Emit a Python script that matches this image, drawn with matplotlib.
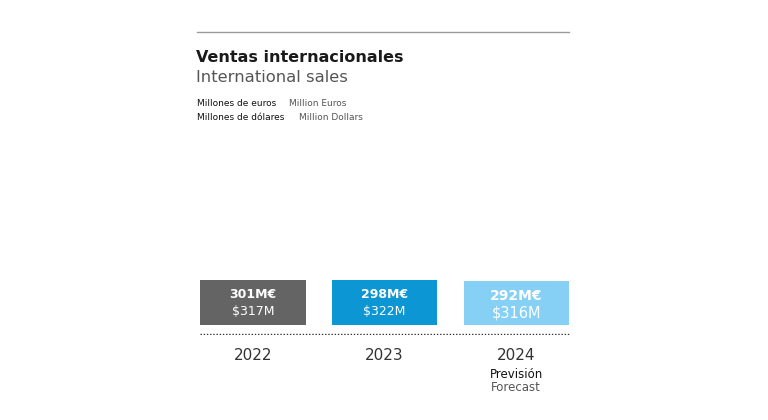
import matplotlib
matplotlib.use('Agg')
import matplotlib.pyplot as plt
from matplotlib.lines import Line2D

plt.rcParams['font.family'] = ['DejaVu Sans']

# data
years = ['2022', '2023', '2024']
euros = [301, 298, 292]
dollars = [317, 322, 316]
bar_colors = ['#646464', '#0d96d4', '#86d0f6']

W, H = 768, 420
fig = plt.figure(figsize=(W / 100, H / 100), dpi=100)


def fx(px):
    return px / W


def fy(py):
    return 1 - py / H


# header
fig.add_artist(Line2D([fx(197), fx(569)], [fy(32), fy(32)], color='#9a9a9a', lw=1,
                      transform=fig.transFigure))
fig.text(fx(196), fy(57), 'Ventas internacionales', fontsize=11.5, fontweight='bold',
         color='#1a1a1a', va='center')
fig.text(fx(196), fy(77), 'International sales', fontsize=11.8, color='#555555', va='center')
fig.text(fx(197), fy(103), 'Millones de euros', fontsize=6.5, color='#111111', va='center')
fig.text(fx(289), fy(103), 'Million Euros', fontsize=6.5, color='#555555', va='center')
fig.text(fx(197), fy(117), 'Millones de dólares', fontsize=6.5, color='#111111', va='center')
fig.text(fx(299), fy(117), 'Million Dollars', fontsize=6.5, color='#555555', va='center')

# bars
ax = fig.add_axes([fx(187), fy(335), fx(582) - fx(187), fy(255) - fy(335)])
x = list(range(len(years)))
ax.bar(x, euros, width=0.8, color=bar_colors)
ax.set_xlim(-0.5, 2.5)
ax.set_ylim(-67, 468)
ax.plot([-0.4, 2.4], [-60, -60], color='#333333', lw=1, dashes=(1, 1.3))

for i in x:
    big = i == 2
    ax.text(i, euros[i] * 0.68 - (6 if big else 0), f'{euros[i]}M€', ha='center',
            va='center', color='white', fontsize=10 if big else 9, fontweight='bold')
    ax.text(i, euros[i] * 0.30 - (8 if big else 0), f'${dollars[i]}M', ha='center',
            va='center', color='white', fontsize=10.5 if big else 9)

ax.set_xticks(x)
ax.set_xticklabels(years, fontsize=11, color='#333333')
ax.tick_params(length=0, pad=9)
ax.set_yticks([])
for s in ax.spines.values():
    s.set_visible(False)
ax.patch.set_alpha(0)

ax.text(2, -0.49, 'Previsión', transform=ax.get_xaxis_transform(), ha='center',
        va='center', fontsize=8.5, color='#111111')
ax.text(2, -0.66, 'Forecast', transform=ax.get_xaxis_transform(), ha='center',
        va='center', fontsize=8.5, color='#555555')

fig.savefig('out.png', dpi=100)
